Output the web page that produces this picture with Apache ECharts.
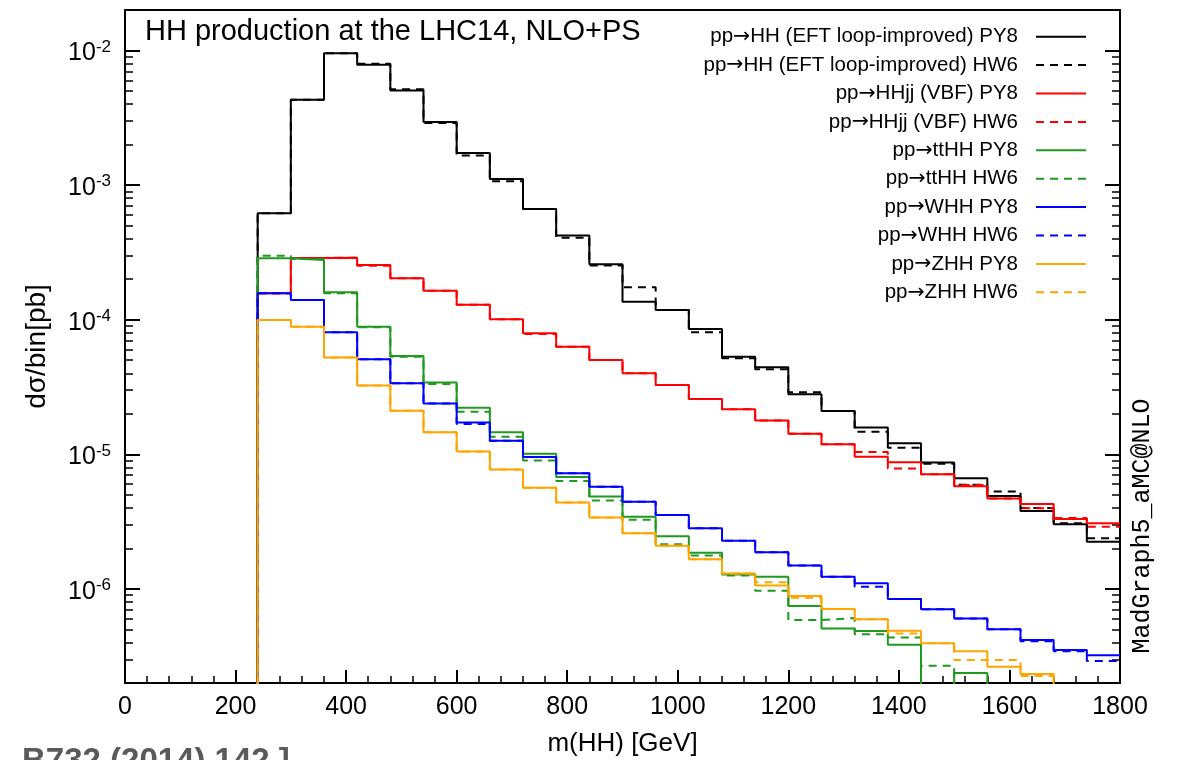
<!DOCTYPE html>
<html><head><meta charset="utf-8">
<script src="https://cdn.jsdelivr.net/npm/echarts@6/dist/echarts.min.js"></script>
<style>html,body{margin:0;padding:0;background:#fff}#c{width:1178px;height:760px}</style>
</head><body><div id="c"></div>
<script>
// ---- data (dsigma/bin in pb), 60 GeV bins from 240 to 1800 GeV ----
const binEdges = [240,300,360,420,480,540,600,660,720,780,840,900,960,1020,1080,1140,1200,1260,1320,1380,1440,1500,1560,1620,1680,1740,1800];
const hhPY8  = [6.18e-4,4.30e-3,9.56e-3,7.83e-3,5.04e-3,2.94e-3,1.73e-3,1.11e-3,6.66e-4,4.22e-4,2.58e-4,1.36e-4,1.18e-4,8.54e-5,5.31e-5,4.43e-5,2.79e-5,2.10e-5,1.58e-5,1.21e-5,8.69e-6,6.63e-6,4.90e-6,3.79e-6,3.02e-6,2.24e-6];
const hhHW6  = [6.18e-4,4.30e-3,9.56e-3,7.96e-3,5.16e-3,2.90e-3,1.66e-3,1.07e-3,6.66e-4,4.07e-4,2.53e-4,1.74e-4,1.18e-4,8.07e-5,5.17e-5,4.28e-5,2.89e-5,2.10e-5,1.47e-5,1.12e-5,8.50e-6,5.95e-6,5.29e-6,3.99e-6,3.07e-6,2.38e-6];
const vbfPY8 = [1.57e-4,2.88e-4,2.89e-4,2.55e-4,2.03e-4,1.64e-4,1.29e-4,1.01e-4,7.94e-5,6.31e-5,5.03e-5,4.00e-5,3.27e-5,2.58e-5,2.16e-5,1.78e-5,1.42e-5,1.19e-5,9.60e-6,8.72e-6,7.10e-6,5.78e-6,4.69e-6,4.27e-6,3.31e-6,3.07e-6];
const vbfHW6 = [1.57e-4,2.88e-4,2.89e-4,2.52e-4,2.03e-4,1.64e-4,1.29e-4,1.01e-4,7.84e-5,6.31e-5,5.03e-5,4.00e-5,3.27e-5,2.58e-5,2.16e-5,1.78e-5,1.42e-5,1.19e-5,1.04e-5,7.84e-6,7.10e-6,5.92e-6,4.69e-6,3.97e-6,3.36e-6,2.90e-6];
const tthhPY8 = [2.86e-4,2.78e-4,1.60e-4,8.88e-5,5.38e-5,3.41e-5,2.22e-5,1.46e-5,1.01e-5,6.78e-6,4.86e-6,3.44e-6,2.46e-6,1.86e-6,1.28e-6,1.23e-6,7.48e-7,5.07e-7,4.87e-7,3.85e-7,0,2.37e-7,0,0,0,0];
const tthhHW6 = [2.99e-4,2.83e-4,1.57e-4,8.79e-5,5.31e-5,3.33e-5,2.07e-5,1.35e-5,9.00e-6,6.33e-6,4.54e-6,3.27e-6,2.15e-6,1.77e-6,1.26e-6,9.69e-7,5.87e-7,6.07e-7,4.60e-7,4.35e-7,2.69e-7,0,0,0,0,0];
const whhPY8 = [1.57e-4,1.40e-4,8.07e-5,5.08e-5,3.37e-5,2.39e-5,1.72e-5,1.26e-5,9.55e-6,7.23e-6,5.74e-6,4.44e-6,3.54e-6,2.82e-6,2.28e-6,1.87e-6,1.49e-6,1.23e-6,1.10e-6,8.41e-7,7.05e-7,6.04e-7,5.01e-7,4.17e-7,3.51e-7,3.22e-7];
const whhHW6 = [1.57e-4,1.40e-4,8.07e-5,5.08e-5,3.37e-5,2.39e-5,1.68e-5,1.26e-5,9.55e-6,7.23e-6,5.74e-6,4.44e-6,3.54e-6,2.82e-6,2.28e-6,1.87e-6,1.49e-6,1.23e-6,1.04e-6,8.41e-7,7.05e-7,6.04e-7,5.01e-7,4.09e-7,3.45e-7,2.92e-7];
const zhhPY8 = [9.96e-5,8.88e-5,5.23e-5,3.24e-5,2.11e-5,1.46e-5,1.05e-5,7.71e-6,5.65e-6,4.38e-6,3.40e-6,2.59e-6,2.09e-6,1.66e-6,1.30e-6,1.06e-6,8.85e-7,7.08e-7,5.94e-7,4.89e-7,3.94e-7,3.45e-7,2.64e-7,2.33e-7,0,0];
const zhhHW6 = [9.96e-5,8.88e-5,5.23e-5,3.24e-5,2.11e-5,1.46e-5,1.05e-5,7.71e-6,5.65e-6,4.38e-6,3.40e-6,2.59e-6,2.09e-6,1.66e-6,1.30e-6,1.12e-6,8.59e-7,7.08e-7,5.94e-7,4.67e-7,3.94e-7,2.96e-7,2.96e-7,2.25e-7,0,0];

const seriesNames = [
  'pp\u2192HH (EFT loop-improved) PY8','pp\u2192HH (EFT loop-improved) HW6',
  'pp\u2192HHjj (VBF) PY8','pp\u2192HHjj (VBF) HW6',
  'pp\u2192ttHH PY8','pp\u2192ttHH HW6',
  'pp\u2192WHH PY8','pp\u2192WHH HW6',
  'pp\u2192ZHH PY8','pp\u2192ZHH HW6'];
const seriesValues = [hhPY8,hhHW6,vbfPY8,vbfHW6,tthhPY8,tthhHW6,whhPY8,whhHW6,zhhPY8,zhhHW6];
const seriesColors = ['#000000','#000000','#ff0000','#ff0000','#1f991f','#1f991f','#0000ff','#0000ff','#ffa500','#ffa500'];
const seriesDashed = [false,true,false,true,false,true,false,true,false,true];

const yMinVal = 2e-7, yMaxVal = 2e-2;
const majorDecades = [-6,-5,-4,-3,-2];
const xTickMin = 0, xTickMax = 1800, xTickStep = 200;

// ---- build ----
const LMIN = Math.log10(yMinVal), LMAX = Math.log10(yMaxVal);
const FLOOR = -9;
const minorTicks = [];
for (let n = -7; n <= -2; n++) for (let k = 2; k <= 9; k++) {
  const l = Math.log10(k) + n;
  if (l > LMIN + 1e-9 && l < LMAX - 1e-9) minorTicks.push(l);
}
function hist(vals) {
  const pts = [[binEdges[0], FLOOR]];
  vals.forEach((v, i) => pts.push([binEdges[i], v > 0 ? Math.log10(v) : FLOOR]));
  const last = vals[vals.length - 1];
  pts.push([binEdges[vals.length], last > 0 ? Math.log10(last) : FLOOR]);
  return pts;
}
const FONT = 'Liberation Sans, Arial, Helvetica, sans-serif';
const chart = echarts.init(document.getElementById('c'), null, {renderer: 'canvas'});
const yCommon = (grid, pos, ticks, len, w, labels) => ({
  type: 'value', gridIndex: grid, position: pos, min: LMIN, max: LMAX,
  axisLine: {show: grid === 0, lineStyle: {color: '#000', width: 2}},
  axisTick: {show: true, inside: true, length: len, customValues: ticks, lineStyle: {color: '#000', width: w}},
  axisLabel: labels ? {
    show: true, customValues: majorDecades, margin: 14, padding: [6, 0, 0, 0],
    formatter: v => '{b|10}{s|' + Math.round(v) + '}',
    rich: {b: {fontSize: 25, fontFamily: FONT, color: '#000', lineHeight: 30},
           s: {fontSize: 17, fontFamily: FONT, color: '#000', verticalAlign: 'top', lineHeight: 17}}
  } : {show: false},
  splitLine: {show: false}, minorTick: {show: false}, minorSplitLine: {show: false}
});
const option = {
  animation: false,
  backgroundColor: '#fff',
  grid: [
    {left: 125, right: 58, top: 10, bottom: 77, show: true, borderColor: '#000', borderWidth: 2, containLabel: false, outerBoundsMode: 'none'},
    {left: 125, right: 58, top: 10, bottom: 77, show: false, containLabel: false, outerBoundsMode: 'none'}
  ],
  xAxis: [
    {type: 'value', gridIndex: 0, min: xTickMin, max: xTickMax, interval: xTickStep,
     axisLine: {lineStyle: {color: '#000', width: 2}},
     axisTick: {inside: true, length: 13, lineStyle: {color: '#000', width: 2}},
     minorTick: {show: true, splitNumber: 5, length: 7, lineStyle: {color: '#000', width: 1.5}},
     axisLabel: {fontSize: 25, fontFamily: FONT, color: '#000', margin: 12, showMinLabel: true, showMaxLabel: true, hideOverlap: false,
                 formatter: v => String(v)},
     splitLine: {show: false},
     name: 'm(HH) [GeV]', nameLocation: 'middle', nameGap: 48,
     nameTextStyle: {fontSize: 26, fontFamily: FONT, color: '#000'}},
    {type: 'value', gridIndex: 1, min: xTickMin, max: xTickMax, show: false}
  ],
  yAxis: [
    Object.assign(yCommon(0, 'left', majorDecades, 15, 2, true),
      {name: 'd\u03c3/bin[pb]', nameLocation: 'middle', nameGap: 74, nameRotate: 90,
       nameTextStyle: {fontSize: 28, fontFamily: FONT, color: '#000'}}),
    yCommon(0, 'right', majorDecades, 15, 2, false),
    yCommon(1, 'left', minorTicks, 8, 1.5, false),
    yCommon(1, 'right', minorTicks, 8, 1.5, false)
  ],
  legend: {
    orient: 'vertical', align: 'right', right: 91, top: 22.5,
    itemWidth: 50, itemHeight: 14, itemGap: 0, padding: 0,
    selectedMode: false,
    itemStyle: {opacity: 0},
    formatter: name => name.replace('\u2192', '{a|\u2192}'),
    textStyle: {fontSize: 20.5, fontFamily: FONT, color: '#000', lineHeight: 28.4, padding: [0, 13, 0, 0],
                rich: {a: {fontSize: 20.5, fontFamily: 'DejaVu Sans', color: '#000', lineHeight: 28.4}}},
    data: seriesNames
  },
  graphic: [
    {type: 'text', left: 145, top: 17, style: {text: 'HH production at the LHC14, NLO+PS', fontSize: 29, fontFamily: FONT, fill: '#000'}},
    {type: 'text', x: 1142, y: 526, rotation: Math.PI / 2,
     style: {text: 'MadGraph5_aMC@NLO', fontSize: 25, fontFamily: 'Liberation Mono, Courier New, monospace', fill: '#000', align: 'center', verticalAlign: 'middle'}},
    {type: 'text', left: 22, top: 745, style: {text: 'B732 (2014) 142 ]', fontSize: 33, fontWeight: 'bold', fontFamily: FONT, fill: '#5a5a5a'}}
  ],
  series: seriesNames.map((name, i) => ({
    name, type: 'line', xAxisIndex: 0, yAxisIndex: 0, step: 'end',
    symbol: 'none', clip: true, silent: true,
    data: hist(seriesValues[i]),
    itemStyle: {color: seriesColors[i]},
    lineStyle: {color: seriesColors[i], width: 2, type: seriesDashed[i] ? [8, 6] : 'solid'},
    z: 2 + i
  }))
};
chart.setOption(option);
</script></body></html>
